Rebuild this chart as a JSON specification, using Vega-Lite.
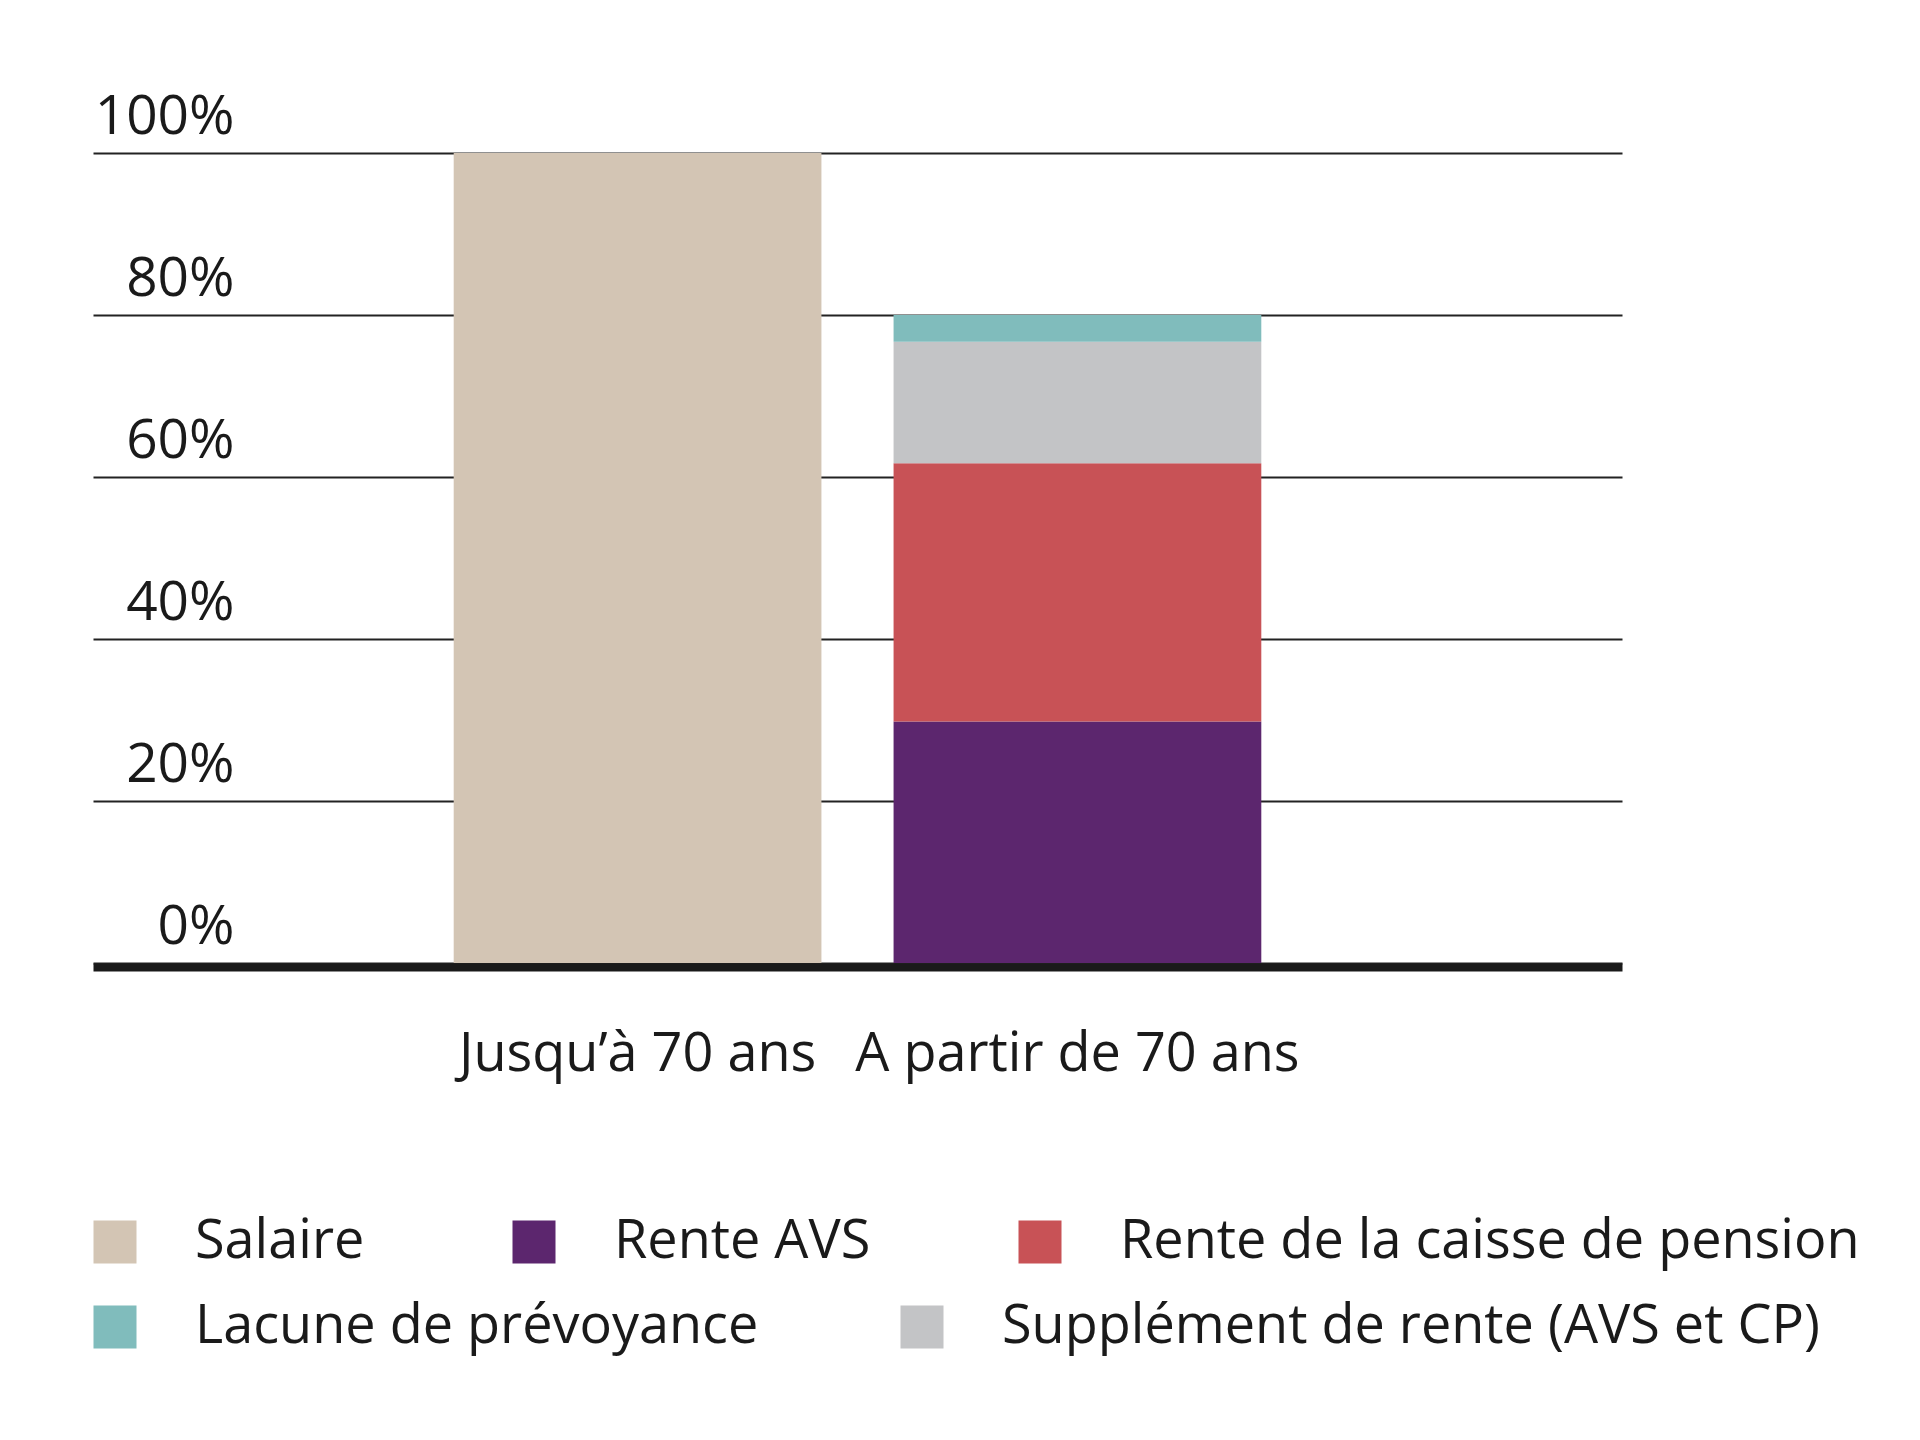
{
  "$schema": "https://vega.github.io/schema/vega-lite/v6.json",
  "width": 1529,
  "height": 810,
  "autosize": {"type": "none"},
  "padding": {"left": 93, "top": 153, "right": 298, "bottom": 477},
  "background": "white",
  "config": {"view": {"stroke": null}, "font": "Open Sans"},
  "data": {
    "values": [
      {"periode": "Jusqu’à 70 ans", "composante": "Salaire", "valeur": 100, "ordre": 1},
      {"periode": "A partir de 70 ans", "composante": "Rente AVS", "valeur": 29.8, "ordre": 1},
      {"periode": "A partir de 70 ans", "composante": "Rente de la caisse de pension", "valeur": 31.9, "ordre": 2},
      {"periode": "A partir de 70 ans", "composante": "Supplément de rente (AVS et CP)", "valeur": 15.0, "ordre": 3},
      {"periode": "A partir de 70 ans", "composante": "Lacune de prévoyance", "valeur": 3.3, "ordre": 4}
    ]
  },
  "transform": [
    {"stack": "valeur", "groupby": ["periode"], "sort": [{"field": "ordre", "order": "ascending"}], "as": ["y0", "y1"]}
  ],
  "encoding": {
    "x": {
      "field": "periode",
      "type": "nominal",
      "sort": ["Jusqu’à 70 ans", "A partir de 70 ans"],
      "scale": {"domain": ["Jusqu’à 70 ans", "A partir de 70 ans"], "paddingInner": 0.164, "paddingOuter": 0.82},
      "axis": {
        "title": null,
        "labelAngle": 0,
        "ticks": false,
        "tickSize": 0,
        "domainWidth": 8,
        "domainColor": "#1a1a1a",
        "offset": 4,
        "labelFontSize": 54,
        "labelColor": "#1a1a1a",
        "labelBaseline": "alphabetic",
        "labelPadding": 103,
        "labelLimit": 1000,
        "labelFont": "Open Sans"
      }
    },
    "y": {
      "field": "y1",
      "type": "quantitative",
      "scale": {"domain": [0, 100], "nice": false},
      "axis": {
        "title": null,
        "values": [0, 20, 40, 60, 80, 100],
        "labelExpr": "datum.value + '%'",
        "domain": false,
        "ticks": false,
        "tickSize": 0,
        "grid": true,
        "gridColor": "#222222",
        "gridWidth": 2,
        "labelAlign": "right",
        "labelBaseline": "alphabetic",
        "labelOffset": -20,
        "labelPadding": -141,
        "labelFontSize": 55,
        "labelColor": "#1a1a1a",
        "labelFont": "Open Sans"
      }
    },
    "y2": {"field": "y0"}
  },
  "layer": [
    {
      "transform": [{"filter": {"field": "composante", "oneOf": ["Salaire", "Rente AVS", "Rente de la caisse de pension"]}}],
      "mark": {"type": "bar", "strokeWidth": 0},
      "encoding": {
        "color": {
          "field": "composante",
          "type": "nominal",
          "scale": {
            "domain": ["Salaire", "Rente AVS", "Rente de la caisse de pension"],
            "range": ["#d3c5b4", "#5c266e", "#c85256"]
          },
          "legend": {
            "orient": "none",
            "legendX": -5,
            "legendY": 1062,
            "direction": "horizontal",
            "columns": 3,
            "title": null,
            "symbolType": "square",
            "symbolSize": 1849,
            "symbolStrokeWidth": 0,
            "symbolOpacity": 1,
            "labelFontSize": 54,
            "labelFont": "Open Sans",
            "labelOffset": 53,
            "columnPadding": 142,
            "labelLimit": 1000,
            "labelColor": "#1a1a1a"
          }
        }
      }
    },
    {
      "transform": [{"filter": {"field": "composante", "oneOf": ["Lacune de prévoyance", "Supplément de rente (AVS et CP)"]}}],
      "mark": {"type": "bar", "strokeWidth": 0},
      "encoding": {
        "color": {
          "field": "composante",
          "type": "nominal",
          "scale": {
            "domain": ["Lacune de prévoyance", "Supplément de rente (AVS et CP)"],
            "range": ["#80bcbc", "#c3c4c6"]
          },
          "legend": {
            "orient": "none",
            "legendX": -5,
            "legendY": 1147,
            "direction": "horizontal",
            "columns": 2,
            "title": null,
            "symbolType": "square",
            "symbolSize": 1849,
            "symbolStrokeWidth": 0,
            "symbolOpacity": 1,
            "labelFontSize": 54,
            "labelFont": "Open Sans",
            "labelOffset": 53,
            "columnPadding": 136,
            "labelLimit": 1000,
            "labelColor": "#1a1a1a"
          }
        }
      }
    }
  ],
  "resolve": {"scale": {"color": "independent"}}
}
